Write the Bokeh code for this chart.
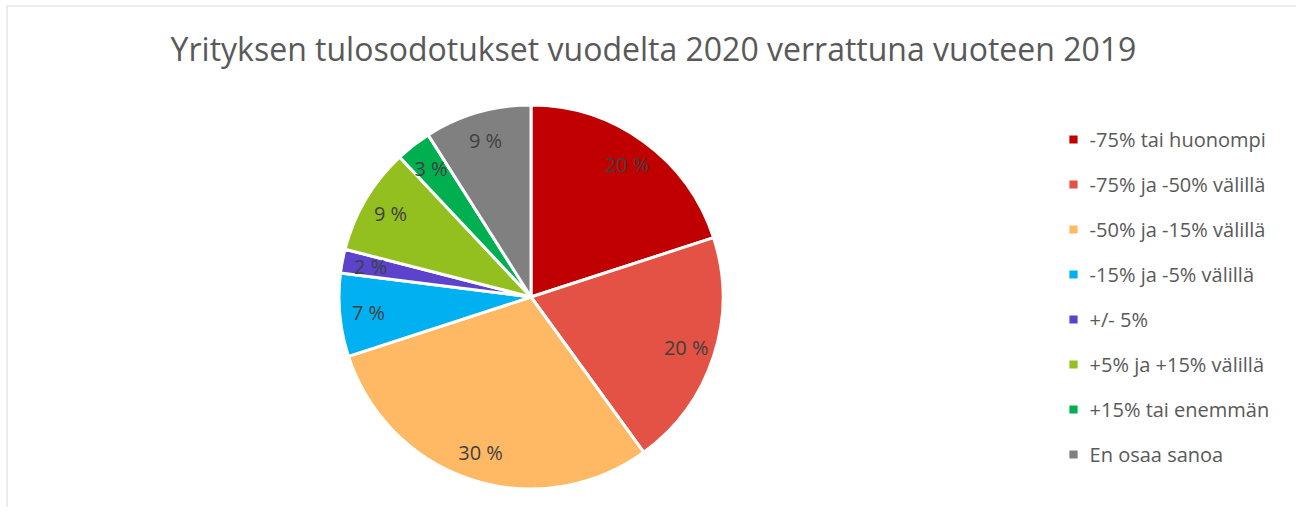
import numpy as np
from bokeh.plotting import figure
from bokeh.models import Range1d, Legend, LegendItem, ColumnDataSource, Label, Span
from bokeh.embed import file_html
from bokeh.resources import INLINE
from bokeh.core.properties import value

title_text = "Yrityksen tulosodotukset vuodelta 2020 verrattuna vuoteen 2019"
categories = ["-75% tai huonompi", "-75% ja -50% välillä", "-50% ja -15% välillä",
              "-15% ja -5% välillä", "+/- 5%", "+5% ja +15% välillä",
              "+15% tai enemmän", "En osaa sanoa"]
values = [20, 20, 30, 7, 2, 9, 3, 9]
colors = ["#C00000", "#E35244", "#FFB965", "#00B0F0", "#5B43CC", "#93C01F", "#00B050", "#808080"]

FONT = "Open Sans"
W, H = 1296, 507
BL, BT = 6, 5                    # left / top border offsets of the frame
FW, FH = W - BL, H - BT          # frame size
CX, CY = 524.5, 210.5            # pie centre in frame pixels (from left / bottom)
R = 192.0

vals = np.array(values, dtype=float)
frac = vals / vals.sum()
cum_after = np.cumsum(frac)
cum_before = cum_after - frac
start = np.pi / 2 - 2 * np.pi * cum_before
end = np.pi / 2 - 2 * np.pi * cum_after
mid = (start + end) / 2
lab_r = 0.85 * R

src = ColumnDataSource(dict(
    cat=categories, val=values, color=colors, start=start, end=end,
    lx=lab_r * np.cos(mid), ly=lab_r * np.sin(mid),
    txt=[f"{v} %" for v in values],
))

xr = Range1d(-CX, FW - CX)
yr = Range1d(-CY, FH - CY)
p = figure(width=W, height=H, output_backend="svg", toolbar_location=None,
           x_range=xr, y_range=yr,
           min_border_left=BL, min_border_top=BT, min_border_right=0,
           min_border_bottom=0, x_axis_type=None, y_axis_type=None)
p.grid.visible = False
p.outline_line_color = None
p.background_fill_color = "white"
p.border_fill_color = "white"

# chart-area border (only left and top edges are visible in the original crop)
p.add_layout(Span(location=xr.start, dimension="height", line_color="#D9D9D9", line_width=2))
p.add_layout(Span(location=yr.end, dimension="width", line_color="#D9D9D9", line_width=2))

renderers = []
for i in range(len(values)):
    r = p.wedge(x=0, y=0, radius=R, start_angle=start[i], end_angle=end[i],
                direction="clock", fill_color=colors[i], line_color="white",
                line_width=3)
    renderers.append(r)

p.text(x="lx", y="ly", text="txt", source=src, text_align="center",
       text_baseline="middle", text_font=value(FONT), text_font_size="20px",
       text_color="#404040")

title = Label(x=647, y=459, x_units="screen", y_units="screen", text=title_text,
              text_font=FONT, text_font_size="32px", text_color="#595959",
              text_align="center", text_baseline="middle")
p.add_layout(title)

legend = Legend(items=[LegendItem(label=c, renderers=[renderers[i]])
                       for i, c in enumerate(categories)],
                location=(1059.6, 38), orientation="vertical",
                glyph_width=14, glyph_height=14, label_standoff=10,
                label_height=30, spacing=15, padding=0, margin=0,
                border_line_alpha=0, background_fill_alpha=0,
                label_text_font=FONT, label_text_font_size="20px",
                label_text_color="#595959")
p.add_layout(legend)

open("out.html", "w").write(file_html(p, INLINE))
